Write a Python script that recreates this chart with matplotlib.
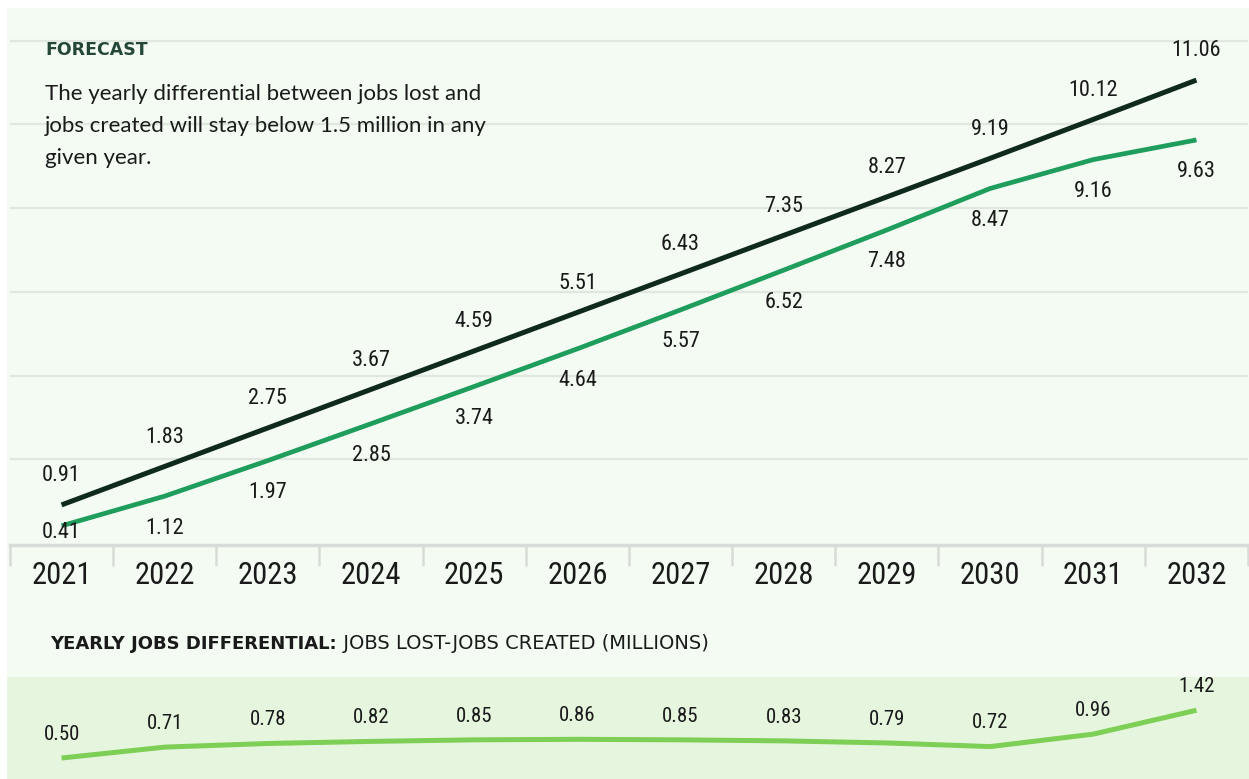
import matplotlib.pyplot as plt
from matplotlib import font_manager
from matplotlib.patches import Rectangle

years = [2021, 2022, 2023, 2024, 2025, 2026, 2027, 2028, 2029, 2030, 2031, 2032]
jobs_lost = [0.91, 1.83, 2.75, 3.67, 4.59, 5.51, 6.43, 7.35, 8.27, 9.19, 10.12, 11.06]
jobs_created = [0.41, 1.12, 1.97, 2.85, 3.74, 4.64, 5.57, 6.52, 7.48, 8.47, 9.16, 9.63]
differential = [0.50, 0.71, 0.78, 0.82, 0.85, 0.86, 0.85, 0.83, 0.79, 0.72, 0.96, 1.42]

# pick a condensed face for the numbers if one is installed
fonts = font_manager.fontManager.ttflist
names = {f.name for f in fonts}
num_kw = {'family': 'Roboto' if 'Roboto' in names else 'DejaVu Sans'}
for cand in ['Liberation Sans Narrow', 'Roboto Condensed', 'Open Sans Condensed',
             'Noto Sans Condensed', 'DejaVu Sans Condensed']:
    if cand in names:
        num_kw = {'family': cand}
        break
else:
    cond = [f for f in fonts if f.name == 'DejaVu Sans' and 'condensed' in str(f.stretch)]
    if cond:
        num_kw = {'family': 'DejaVu Sans', 'stretch': 'condensed'}
txt_font = 'Lato' if 'Lato' in names else 'DejaVu Sans'

bg = '#f3fbf3'
band = '#e6f6de'
dark = '#0f2a1c'
green = '#1f9d5c'
light = '#7dcf55'
grid = '#dfe7df'
text_c = '#1a1a1a'

W, H = 1249, 779
fig = plt.figure(figsize=(W / 100, H / 100), dpi=100, facecolor='white')
fig.patches.append(Rectangle((7 / W, 0), 1, 1 - 8 / H, transform=fig.transFigure,
                             facecolor=bg, edgecolor='none', zorder=-10))

# main forecast chart
ax = fig.add_axes([10 / W, (H - 543) / H, 1238 / W, 519 / H])
ax.patch.set_visible(False)
ax.set_xlim(2020.5, 2032.5)
ax.set_ylim(0, 12.4)
for s in ax.spines.values():
    s.set_visible(False)
ax.set_xticks([])
ax.set_yticks([])

for g in [2, 4, 6, 8, 10, 12]:
    ax.axhline(g, color=grid, lw=1.6, zorder=0)
ax.axhline(-0.05, color='#d8dcd8', lw=2.5, zorder=1, clip_on=False)
ax.vlines([y - 0.5 for y in years] + [years[-1] + 0.5], -0.55, -0.05,
          color='#d8dcd8', lw=1.8, clip_on=False)

ax.plot(years, jobs_lost, color=dark, lw=3.6, solid_capstyle='butt', zorder=3)
ax.plot(years, jobs_created, color=green, lw=3.4, solid_capstyle='butt', zorder=3)

for yr, v in zip(years, jobs_lost):
    ax.annotate(f'{v:.2f}', (yr, v), xytext=(0, 21), textcoords='offset points',
                ha='center', va='center', fontsize=16, color=text_c, **num_kw)
for i, (yr, v) in enumerate(zip(years, jobs_created)):
    off = -5 if i == 0 else -23
    ax.annotate(f'{v:.2f}', (yr, v), xytext=(0, off), textcoords='offset points',
                ha='center', va='center', fontsize=16, color=text_c, **num_kw)

for yr in years:
    ax.text(yr, -0.78, str(yr), ha='center', va='center', fontsize=22,
            color=text_c, clip_on=False, **num_kw)

fig.text(45 / W, 1 - 50 / H, 'FORECAST', fontsize=12.5, fontweight='bold',
         family='DejaVu Sans', color='#24473a', va='center', ha='left')
fig.text(45 / W, 1 - 84 / H,
         'The yearly differential between jobs lost and\n'
         'jobs created will stay below 1.5 million in any\n'
         'given year.',
         fontsize=16, family=txt_font, color=text_c, va='top', ha='left',
         linespacing=1.74)

# bottom differential strip
t1 = fig.text(50 / W, 1 - 644 / H, 'YEARLY JOBS DIFFERENTIAL:', fontsize=13,
              fontweight='bold', family='DejaVu Sans', color=text_c, va='center')
ax.annotate(' JOBS LOST-JOBS CREATED (MILLIONS)', xy=(1, 0), xycoords=t1,
            va='bottom', ha='left', fontsize=14, family='DejaVu Sans',
            color=text_c, annotation_clip=False)

bx = fig.add_axes([7 / W, 0, 1 - 7 / W, 102 / H])
bx.set_facecolor(band)
bx.set_xlim(2020.5 - 3 / 1238 * 12, 2032.5 + 1 / 1238 * 12)
bx.set_ylim(0.096, 2.06)
for s in bx.spines.values():
    s.set_visible(False)
bx.set_xticks([])
bx.set_yticks([])
bx.plot(years, differential, color=light, lw=3.6, solid_capstyle='butt')
for yr, v in zip(years, differential):
    bx.annotate(f'{v:.2f}', (yr, v), xytext=(0, 17), textcoords='offset points',
                ha='center', va='center', fontsize=15, color=text_c, **num_kw)

fig.savefig('out.png', dpi=100, facecolor='white')
